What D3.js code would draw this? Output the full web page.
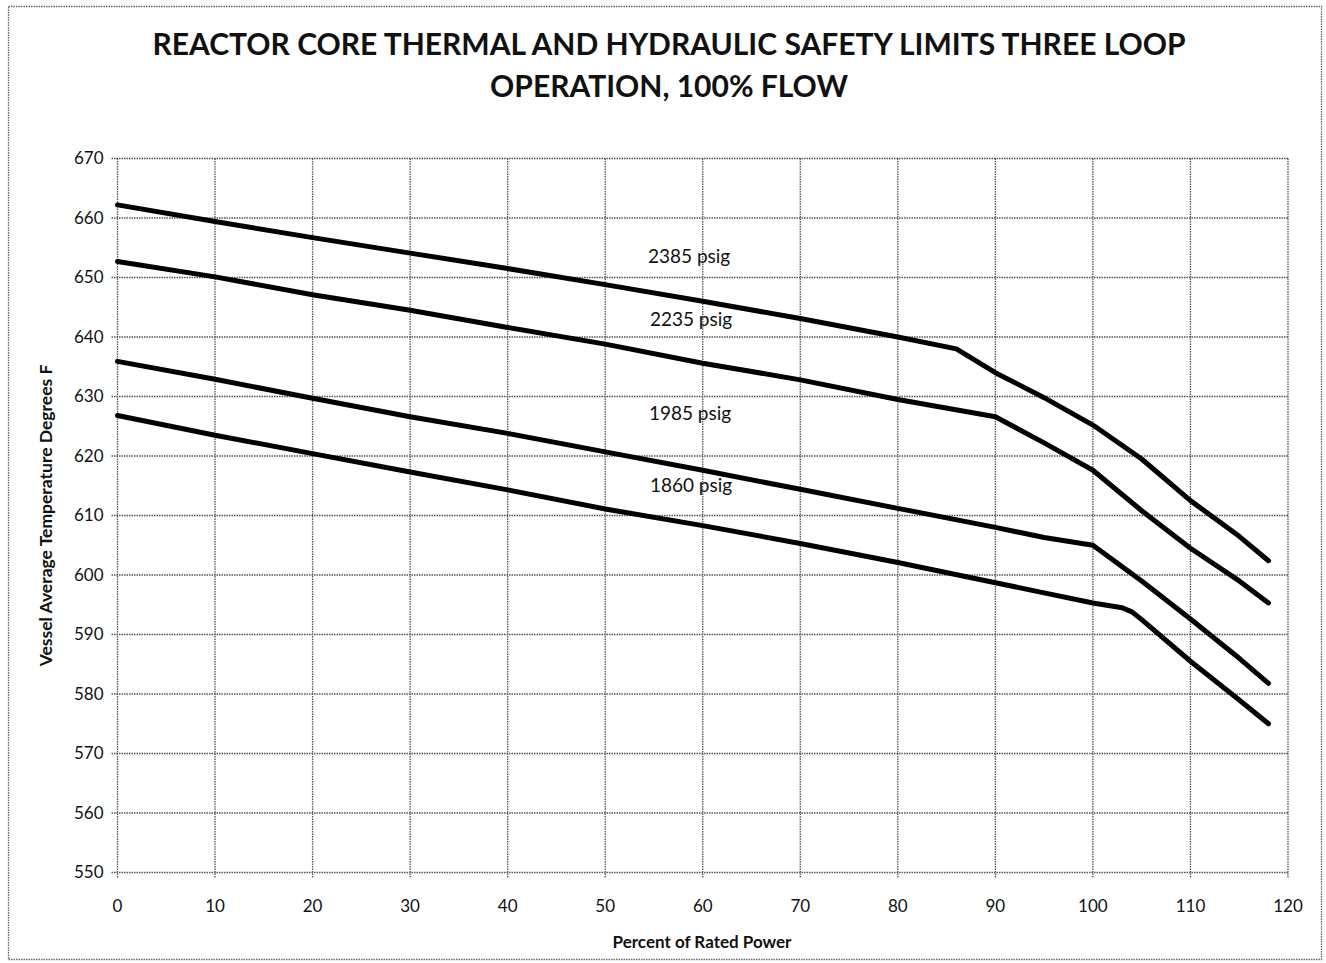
<!DOCTYPE html>
<html>
<head>
<meta charset="utf-8">
<script src="https://cdn.jsdelivr.net/npm/d3@7"></script>
<style>
  body { margin: 0; background: #fff; }
  svg { font-family: Lato, "Open Sans", sans-serif; }
  .grid line { stroke: #555; stroke-width: 1.3; stroke-dasharray: 1.5,1; }
  .tickLabel { font-size: 17px; fill: #111; }
  .curve { fill: none; stroke: #000; stroke-width: 5; stroke-linejoin: round; stroke-linecap: round; }
  .curveLabel { font-size: 19px; fill: #111; }
</style>
</head>
<body>
<div id="chart"></div>
<script>
const WIDTH = 1326;
const HEIGHT = 963;
const MARGIN = { top: 158.5, right: 38, bottom: 90.5, left: 117.5 };

const xTicks = [0, 10, 20, 30, 40, 50, 60, 70, 80, 90, 100, 110, 120];
const yTicks = [550, 560, 570, 580, 590, 600, 610, 620, 630, 640, 650, 660, 670];

// percent of rated power -> vessel average temperature
const power2385 = [0, 10, 20, 30, 40, 50, 60, 70, 80, 86, 90, 95, 100, 105, 110, 115, 118];
const temp2385 = [662.2, 659.4, 656.7, 654.1, 651.5, 648.8, 646.0, 643.1, 640.0, 638.0, 634.0, 629.8, 625.2, 619.5, 612.5, 606.5, 602.4];

const power2235 = [0, 10, 20, 30, 40, 50, 60, 70, 80, 90, 95, 100, 105, 110, 115, 118];
const temp2235 = [652.7, 650.1, 647.1, 644.5, 641.6, 638.8, 635.6, 632.8, 629.5, 626.6, 622.2, 617.6, 610.8, 604.5, 599.0, 595.3];

const power1985 = [0, 10, 20, 30, 40, 50, 60, 70, 80, 90, 95, 100, 105, 110, 115, 118];
const temp1985 = [635.9, 632.9, 629.7, 626.6, 623.8, 620.7, 617.6, 614.4, 611.2, 608.0, 606.3, 605.0, 599.0, 592.6, 586.0, 581.8];

const power1860 = [0, 10, 20, 30, 40, 50, 60, 70, 80, 90, 95, 100, 103, 104, 105, 110, 115, 118];
const temp1860 = [626.8, 623.5, 620.4, 617.3, 614.3, 611.1, 608.3, 605.3, 602.1, 598.7, 597.0, 595.3, 594.5, 593.8, 592.5, 585.5, 579.0, 575.0];

const seriesNames = ["2385 psig", "2235 psig", "1985 psig", "1860 psig"];
const seriesPower = [power2385, power2235, power1985, power1860];
const seriesTemp = [temp2385, temp2235, temp1985, temp1860];
// where each label sits, in data units
const labelPower = [58.6, 58.8, 58.7, 58.8];
const labelTemp = [653.6, 642.9, 627.2, 615.0];

const TITLE_LINES = ["REACTOR CORE THERMAL AND HYDRAULIC SAFETY LIMITS THREE LOOP", "OPERATION, 100% FLOW"];

let svg = d3.select("#chart").append("svg")
    .attr("width", WIDTH)
    .attr("height", HEIGHT);

// outer dotted frame
svg.append("rect")
    .attr("x", 8.5).attr("y", 6.5)
    .attr("width", 1313).attr("height", 953)
    .attr("fill", "none")
    .attr("stroke", "#666")
    .attr("stroke-width", 1.3)
    .attr("stroke-dasharray", "1.5,1");

let x = d3.scaleLinear().domain([0, 120]).range([MARGIN.left, WIDTH - MARGIN.right]);
let y = d3.scaleLinear().domain([550, 670]).range([HEIGHT - MARGIN.bottom, MARGIN.top]);

// grid
let grid = svg.append("g").attr("class", "grid");
grid.selectAll("line.v").data(xTicks).join("line")
    .attr("class", "v")
    .attr("x1", d => x(d)).attr("x2", d => x(d))
    .attr("y1", y(670)).attr("y2", y(550) + 6);
grid.selectAll("line.h").data(yTicks).join("line")
    .attr("class", "h")
    .attr("x1", x(0) - 6).attr("x2", x(120))
    .attr("y1", d => y(d)).attr("y2", d => y(d));

// tick labels
svg.selectAll("text.yTick").data(yTicks).join("text")
    .attr("class", "tickLabel yTick")
    .attr("x", x(0) - 14)
    .attr("y", d => y(d))
    .attr("dy", "0.35em")
    .attr("text-anchor", "end")
    .text(d => d);
svg.selectAll("text.xTick").data(xTicks).join("text")
    .attr("class", "tickLabel xTick")
    .attr("x", d => x(d))
    .attr("y", y(550) + 39)
    .attr("text-anchor", "middle")
    .text(d => d);

// curves
let line = d3.line().x(d => x(d[0])).y(d => y(d[1]));
seriesNames.forEach((name, i) => {
    let pts = seriesPower[i].map((p, j) => [p, seriesTemp[i][j]]);
    svg.append("path").datum(pts).attr("class", "curve").attr("d", line);
    svg.append("text")
        .attr("class", "curveLabel")
        .attr("x", x(labelPower[i]))
        .attr("y", y(labelTemp[i]))
        .attr("dy", "0.35em")
        .attr("text-anchor", "middle")
        .text(name);
});

// title
svg.selectAll("text.title").data(TITLE_LINES).join("text")
    .attr("class", "title")
    .attr("x", 669)
    .attr("y", (d, i) => 55 + i * 42)
    .attr("text-anchor", "middle")
    .attr("font-size", 30)
    .attr("font-weight", "bold")
    .attr("fill", "#111")
    .text(d => d);

// axis titles
svg.append("text")
    .attr("x", 702)
    .attr("y", 948)
    .attr("text-anchor", "middle")
    .attr("font-size", 17)
    .attr("font-weight", "bold")
    .attr("fill", "#111")
    .text("Percent of Rated Power");
svg.append("text")
    .attr("transform", "translate(52," + y(610) + ") rotate(-90)")
    .attr("text-anchor", "middle")
    .attr("font-size", 17.5)
    .attr("font-weight", "bold")
    .attr("fill", "#111")
    .text("Vessel Average Temperature Degrees F");
</script>
</body>
</html>
